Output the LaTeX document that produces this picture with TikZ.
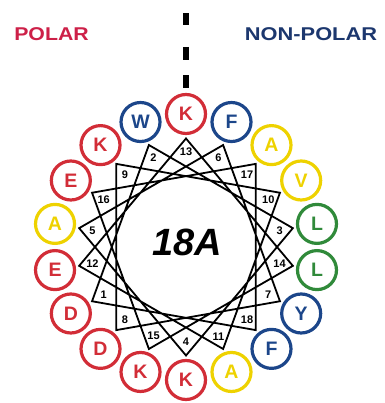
\documentclass[tikz,border=0pt]{standalone}
\usepackage{fontspec}
\setmainfont{Liberation Sans}
\definecolor{rd}{RGB}{210,45,55}
\definecolor{bl}{RGB}{28,70,138}
\definecolor{ye}{RGB}{238,210,0}
\definecolor{gr}{RGB}{48,138,58}
\definecolor{polarc}{RGB}{205,32,72}
\definecolor{nonpolarc}{RGB}{28,55,110}
\begin{document}
\begin{tikzpicture}[x=1pt,y=1pt,
  res/.style={circle,draw=#1,text=#1,line width=3.2pt,minimum size=39pt,inner sep=0pt,fill=white,
    font=\fontsize{19.5}{19.5}\selectfont\bfseries},
  num/.style={inner sep=0pt,font=\fontsize{11}{11}\selectfont\bfseries},
  chord/.style={line width=1.8pt,line join=miter},
  head/.style={inner sep=0pt,font=\fontsize{18.5}{18.5}\selectfont\bfseries}]
\useasboundingbox (0,0) rectangle (384,403);
\coordinate (c) at (186,156);
\foreach \n/\l/\col in {1/D/rd,2/W/bl,3/L/gr,4/K/rd,5/A/ye,6/F/bl,7/Y/bl,8/D/rd,9/K/rd,
  10/V/ye,11/A/ye,12/E/rd,13/K/rd,14/L/gr,15/K/rd,16/E/rd,17/A/ye,18/F/bl}{
  \pgfmathsetmacro{\ang}{210-100*(\n-1)}
  \coordinate (v\n) at ([shift={(\ang:108.5)}]c);
  \node[num] (n\n) at ([shift={(\ang:95)}]c) {\n};
  \node[res=\col] (r\n) at ([shift={(\ang:133)}]c) {\l};
}
\draw[chord] (v1) -- (v2) -- (v3) -- (v4) -- (v5) -- (v6) -- (v7) -- (v8) -- (v9) -- (v10)
  -- (v11) -- (v12) -- (v13) -- (v14) -- (v15) -- (v16) -- (v17) -- (v18) -- cycle;
\node[inner sep=0pt,font=\fontsize{38}{38}\selectfont\bfseries\itshape] (title) at (187.5,160.5) {18A};
\coordinate (dtop) at (186,389.7);
\draw[line width=5.5pt,dash pattern=on 12pt off 21.7pt on 12.6pt off 15.7pt on 12.3pt off 100pt]
  (dtop) -- (r13.north);
\node[head,text=polarc] (polar) at (51.5,369) {\scalebox{1.15}[1]{POLAR}};
\node[head,text=nonpolarc] (nonpolar) at (311,369) {\scalebox{1.18}[1]{NON-POLAR}};
\end{tikzpicture}
\end{document}
